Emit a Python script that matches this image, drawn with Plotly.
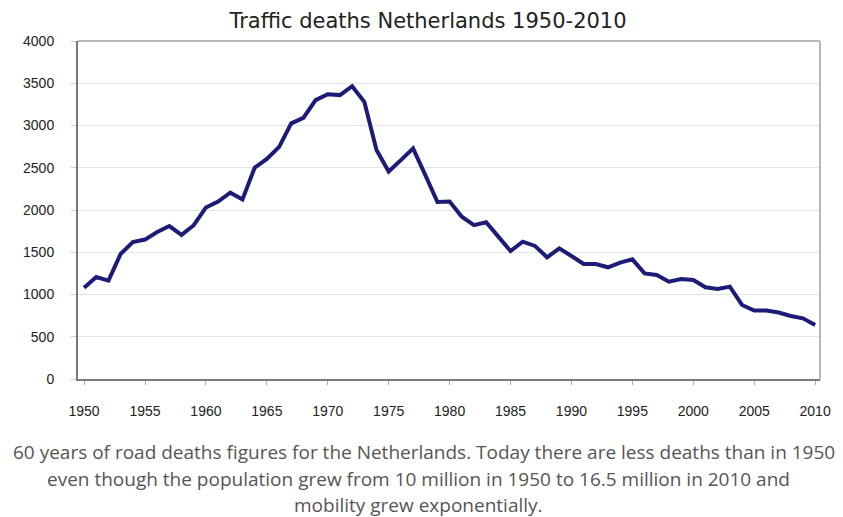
import plotly.graph_objects as go

years = list(range(1950, 2011))
deaths = [1080, 1207, 1165, 1480, 1620, 1650, 1740, 1810, 1705, 1820,
          2030, 2100, 2205, 2125, 2500, 2605, 2745, 3025, 3090, 3300,
          3370, 3360, 3465, 3280, 2710, 2455, 2590, 2730, 2415, 2095,
          2100, 1920, 1820, 1855, 1685, 1515, 1625, 1575, 1440, 1546,
          1456, 1362, 1360, 1322, 1378, 1416, 1250, 1232, 1152, 1183,
          1172, 1085, 1066, 1093, 876, 810, 810, 786, 746, 718, 640]

x_ticks = list(range(1950, 2011, 5))
y_ticks = list(range(0, 4001, 500))

title_text = "Traffic deaths Netherlands 1950-2010"
caption_lines = [
    "60 years of road deaths figures for the Netherlands. Today there are less deaths than in 1950",
    "even though the population grew from 10 million in 1950 to 16.5 million in 2010 and",
    "mobility grew exponentially.",
]

W, H = 843, 517
L, R, T, B = 78, 18, 41, 138
plot_h = H - T - B

fig = go.Figure()
fig.add_trace(go.Scatter(
    x=years, y=deaths, mode="lines",
    line=dict(color="#1c1c78", width=4),
    hoverinfo="x+y", showlegend=False,
))

fig.update_layout(
    width=W, height=H,
    margin=dict(l=L, r=R, t=T, b=B),
    paper_bgcolor="white", plot_bgcolor="white",
    title=dict(text=title_text, x=(428 / W), xanchor="center",
               y=1 - 21 / H, yanchor="middle", yref="container",
               font=dict(family="DejaVu Sans", size=21, color="#222")),
    xaxis=dict(range=[1949.5, 2010.4], tickvals=x_ticks,
               ticktext=[str(v) for v in x_ticks],
               showgrid=False, zeroline=False,
               showline=True, linecolor="#7a7a7a", linewidth=2,
               ticks="outside", ticklen=4, tickcolor="#aaaaaa",
               ticklabelstandoff=14,
               tickfont=dict(family="Liberation Sans", size=14, color="#222")),
    yaxis=dict(range=[0, 4000], tickvals=y_ticks,
               showgrid=True, gridcolor="#e4e4e4", gridwidth=1,
               zeroline=False,
               showline=True, linecolor="#7a7a7a", linewidth=2,
               ticks="outside", ticklen=5, tickcolor="#cccccc",
               ticklabelstandoff=14,
               tickfont=dict(family="Liberation Sans", size=14, color="#222")),
)

# lighter top and right frame
fig.add_shape(type="line", xref="paper", yref="paper", x0=0, x1=1, y0=1, y1=1,
              line=dict(color="#b8b8b8", width=2))
fig.add_shape(type="line", xref="paper", yref="paper", x0=1, x1=1, y0=0, y1=1,
              line=dict(color="#b8b8b8", width=2))

caption_y = [452, 479, 505]
caption_x = [426, 421, 421]
for txt, xp, yp in zip(caption_lines, caption_x, caption_y):
    fig.add_annotation(
        text=txt, xref="paper", yref="paper",
        x=(xp - L) / (W - L - R), xanchor="center",
        y=(H - B - yp) / plot_h, yanchor="middle",
        showarrow=False,
        font=dict(family="Open Sans", size=19, color="#555555"),
    )

fig.write_html("out.html")
